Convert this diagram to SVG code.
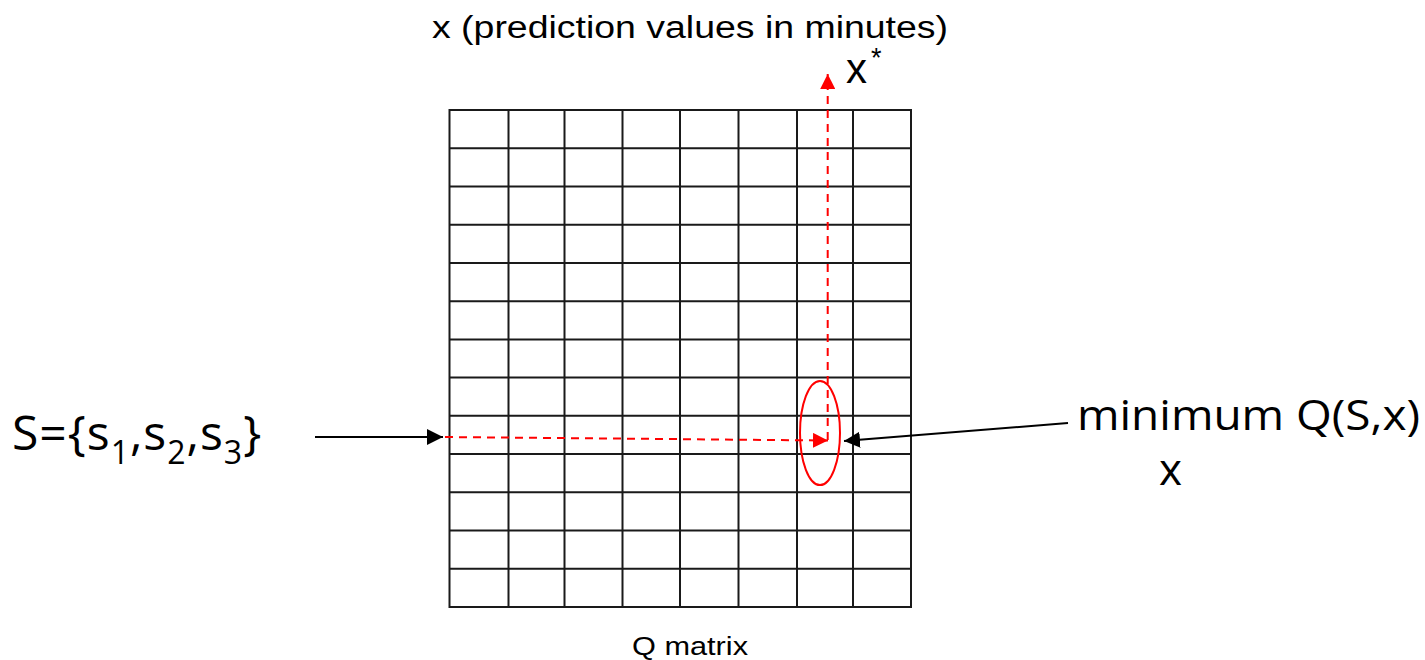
<svg xmlns="http://www.w3.org/2000/svg" width="1425" height="660" viewBox="0 0 1425 660">
<style>
.grid{stroke:#1a1a1a;stroke-width:2;fill:none}
.red{stroke:#ff0000;stroke-width:2;fill:none;stroke-dasharray:8 6}
.blk{stroke:#000;stroke-width:2;fill:none}
.tah{font-family:"Liberation Sans",Arial,sans-serif;fill:#000}
.cal{font-family:"Open Sans","Lato",sans-serif;fill:#000}
</style>
<defs>
<marker id="ar" viewBox="0 0 10 10" refX="10" refY="5" markerWidth="15" markerHeight="15" markerUnits="userSpaceOnUse" orient="auto"><path d="M0,0 L10,5 L0,10 Z" fill="#ff0000"/></marker>
<marker id="ab" viewBox="0 0 10 10" refX="10" refY="5" markerWidth="16" markerHeight="16" markerUnits="userSpaceOnUse" orient="auto"><path d="M0,0 L10,5 L0,10 Z" fill="#000"/></marker>
</defs>
<rect width="1425" height="660" fill="#fff"/>
<g id="qmatrix">
<rect class="grid" x="449.5" y="110" width="461.5" height="497"/>
<path class="grid" d="M508.5,110V607 M564.5,110V607 M622.5,110V607 M680,110V607 M738.5,110V607 M797,110V607 M853,110V607
M449.5,148.2H911 M449.5,186.5H911 M449.5,224.7H911 M449.5,262.9H911 M449.5,301.2H911 M449.5,339.4H911 M449.5,377.6H911 M449.5,415.8H911 M449.5,454.1H911 M449.5,492.3H911 M449.5,530.5H911 M449.5,568.8H911"/>
<text class="tah" x="632" y="655" font-size="25" textLength="116" lengthAdjust="spacingAndGlyphs">Q matrix</text>
</g>
<g id="highlight">
<ellipse cx="820" cy="433" rx="20" ry="52" fill="none" stroke="#ff0000" stroke-width="2"/>
</g>
<g id="labels">
<text class="tah" x="432" y="38" font-size="31" textLength="516" lengthAdjust="spacingAndGlyphs">x (prediction values in minutes)</text>
<text class="tah" x="846" y="83" font-size="42">x</text>
<text class="tah" x="871" y="67" font-size="27">*</text>
<text class="cal" x="12" y="450" font-size="48" letter-spacing="1">S={s<tspan font-size="32" dy="14">1</tspan><tspan dy="-14">,s</tspan><tspan font-size="32" dy="14">2</tspan><tspan dy="-14">,s</tspan><tspan font-size="32" dy="14">3</tspan><tspan dy="-14">}</tspan></text>
<text class="cal" x="1077" y="430" font-size="42" textLength="343" lengthAdjust="spacingAndGlyphs">minimum Q(S,x)</text>
<text class="cal" x="1159" y="485" font-size="44">x</text>
</g>
<g id="connectors">
<line class="blk" x1="315" y1="437" x2="443" y2="437" marker-end="url(#ab)"/>
<line class="red" x1="445" y1="437" x2="828" y2="440.5" marker-end="url(#ar)"/>
<line class="red" x1="827.7" y1="440" x2="827.7" y2="74" marker-end="url(#ar)"/>
<line class="blk" x1="1068" y1="423" x2="844" y2="441" marker-end="url(#ab)"/>
</g>
</svg>
